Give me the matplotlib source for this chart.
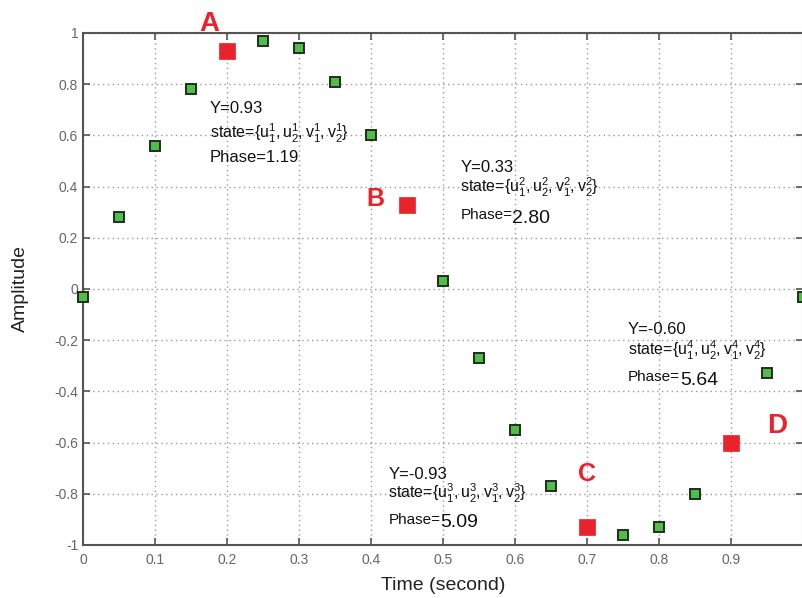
import matplotlib
matplotlib.use("Agg")
import matplotlib.pyplot as plt

plt.rcParams['font.family'] = ['Liberation Sans', 'DejaVu Sans']
plt.rcParams['mathtext.fontset'] = 'custom'
plt.rcParams['mathtext.rm'] = 'Liberation Sans'
plt.rcParams['mathtext.it'] = 'Liberation Sans'

# ---- data ----
time_s = [0.0, 0.05, 0.1, 0.15, 0.2, 0.25, 0.3, 0.35, 0.4, 0.45, 0.5,
          0.55, 0.6, 0.65, 0.7, 0.75, 0.8, 0.85, 0.9, 0.95, 1.0]
amplitude = [-0.03, 0.28, 0.56, 0.78, 0.93, 0.97, 0.94, 0.81, 0.60, 0.33, 0.03,
             -0.27, -0.55, -0.77, -0.93, -0.96, -0.93, -0.80, -0.60, -0.33, -0.03]
marked_idx = [4, 9, 14, 18]
marked_labels = ["A", "B", "C", "D"]
marked_y_text = ["Y=0.93", "Y=0.33", "Y=-0.93", "Y=-0.60"]
marked_state = [1, 2, 3, 4]
marked_phase = ["1.19", "2.80", "5.09", "5.64"]
xticks = [0, 0.1, 0.2, 0.3, 0.4, 0.5, 0.6, 0.7, 0.8, 0.9, 1.0]
xtick_labels = ["0", "0.1", "0.2", "0.3", "0.4", "0.5", "0.6", "0.7", "0.8", "0.9", ""]
yticks = [-1, -0.8, -0.6, -0.4, -0.2, 0, 0.2, 0.4, 0.6, 0.8, 1]
ytick_labels = ["-1", "-0.8", "-0.6", "-0.4", "-0.2", "0", "0.2", "0.4", "0.6", "0.8", "1"]

fig = plt.figure(figsize=(8.03, 5.98), dpi=100)
ax = fig.add_axes([83/803, 53/598, 720/803, 512/598])
ax.set_xlim(0, 1)
ax.set_ylim(-1, 1)

green_x = [t for i, t in enumerate(time_s) if i not in marked_idx]
green_y = [a for i, a in enumerate(amplitude) if i not in marked_idx]
ax.plot(green_x, green_y, 's', ms=7.5, mfc='#52be4a', mec='#1e2e1e', mew=1.4,
        clip_on=False, zorder=5)
red_x = [time_s[i] for i in marked_idx]
red_y = [amplitude[i] for i in marked_idx]
ax.plot(red_x, red_y, 's', ms=11.5, mfc='#e8232b', mec='#e8232b', mew=0.5,
        clip_on=False, zorder=6)

ax.set_xticks(xticks)
ax.set_xticklabels(xtick_labels)
ax.set_yticks(yticks)
ax.set_yticklabels(ytick_labels)
ax.tick_params(direction='in', length=5, width=1.2, colors='#555555',
               labelsize=10, top=True, right=True, labelcolor='#666666')
ax.tick_params(axis='x', pad=6)
for s in ax.spines.values():
    s.set_color('#555555')
    s.set_linewidth(1.5)
ax.grid(True, linestyle=(0, (1, 2.5)), color='#999999', linewidth=1.0)
ax.set_axisbelow(True)

ax.set_xlabel("Time (second)", fontsize=14, color='#222222', labelpad=7)
ax.set_ylabel("Amplitude", fontsize=14, color='#222222', labelpad=18)

# annotation layout (positions in data coords)
label_pos = [(0.175, 1.035), (0.406, 0.352), (0.70, -0.723), (0.964, -0.535)]
label_size = [20, 18, 18, 20]
text_x = [0.176, 0.524, 0.424, 0.757]
text_y = [(0.707, 0.609, 0.512), (0.476, 0.396, 0.289),
          (-0.724, -0.800, -0.902), (-0.160, -0.238, -0.344)]

for k in range(4):
    lx, ly = label_pos[k]
    ax.text(lx, ly, marked_labels[k], color='#e8232b', fontsize=label_size[k],
            fontweight='bold', ha='center', va='center', clip_on=False)
    tx = text_x[k]
    y1, y2, y3 = text_y[k]
    n = marked_state[k]
    ax.text(tx, y1, marked_y_text[k], fontsize=12, va='center', ha='left',
            color='#111111')
    st = r"state={$\mathregular{u_1^%d,u_2^%d,v_1^%d,v_2^%d}$}" % (n, n, n, n)
    ax.text(tx, y2, st, fontsize=11.5, va='center', ha='left', color='#111111')
    if k == 0:
        ax.text(tx, y3, "Phase=" + marked_phase[k], fontsize=12, va='center',
                ha='left', color='#111111')
    else:
        t1 = ax.text(tx, y3, "Phase=", fontsize=11, va='center', ha='left',
                     color='#111111')
        fig.canvas.draw()
        bb = t1.get_window_extent().transformed(ax.transData.inverted())
        ax.text(bb.x1, y3 - 0.012, marked_phase[k], fontsize=14, va='center',
                ha='left', color='#111111')

fig.savefig("out.png", dpi=100)
